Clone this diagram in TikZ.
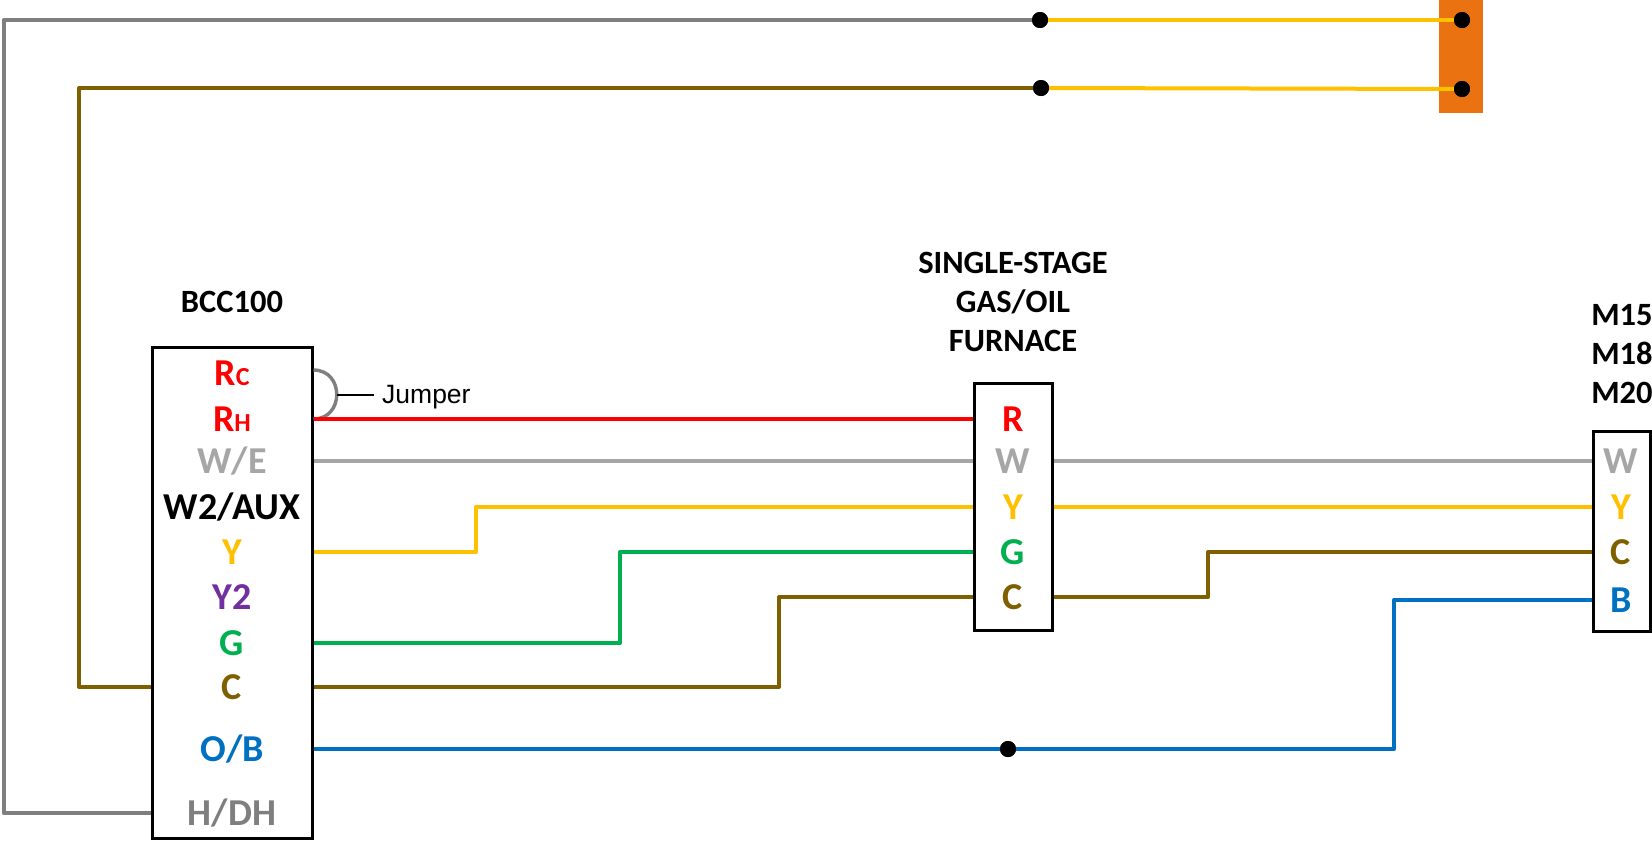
\documentclass[tikz,border=0pt]{standalone}
\usepackage{fontspec}
\setmainfont{Carlito}
\newfontfamily\jumperfont{Liberation Sans}
\definecolor{wred}{HTML}{FF0000}
\definecolor{wlight}{HTML}{A6A6A6}
\definecolor{wgray}{HTML}{7F7F7F}
\definecolor{wyellow}{HTML}{FFC000}
\definecolor{wgreen}{HTML}{00B050}
\definecolor{wbrown}{HTML}{7F6000}
\definecolor{wblue}{HTML}{0070C0}
\definecolor{wpurple}{HTML}{7030A0}
\definecolor{strip}{HTML}{EB7211}
\tikzset{
    panel/.style={draw=black, line width=3pt, fill=white, inner sep=0pt},
    term/.style={inner sep=0pt, text height=24pt, text depth=0pt, font=\fontsize{38}{38}\selectfont\bfseries},
    title/.style={inner sep=0pt, align=center, font=\fontsize{32.5}{39}\selectfont\bfseries},
    wire/.style={line width=4pt, line join=round},
    dot/.style={circle, fill=black, inner sep=0pt, minimum size=16pt},
}
\newcommand{\subsize}{\fontsize{26}{26}\selectfont}
\begin{document}
\begin{tikzpicture}[x=1pt, y=-1pt]
    \useasboundingbox (0,0) rectangle (1652,841);
    % Panels
    \node[panel, minimum width=160pt, minimum height=491pt] (bcc) at (232,592.5) {};
    \node[panel, minimum width=78pt, minimum height=247pt] (furnace) at (1013.5,506.5) {};
    \node[panel, minimum width=57pt, minimum height=200pt] (unit) at (1621.5,531) {};
    \node[fill=strip, inner sep=0pt, minimum width=44pt, minimum height=113pt] (pad) at (1461,56.5) {};
    % Titles
    \node[title] (bcctitle) at (232,302) {BCC100};
    \node[title] (furnacetitle) at (1013,302) {SINGLE-STAGE\\GAS/OIL\\FURNACE};
    \node[title, align=left] (unittitle) at (1622,354) {M15\\M18\\M20};
    % BCC100 terminals
    \node[term, wred] (bccrc) at (232,373) {R{\subsize C}};
    \node[term, wred] (bccrh) at (232,419) {R{\subsize H}};
    \node[term, wlight] (bccw) at (232,461) {W/E};
    \node[term, black] (bccaux) at (232,507) {W2/AUX};
    \node[term, wyellow] (bccy) at (232,552) {Y};
    \node[term, wpurple] (bccytwo) at (232,597) {Y2};
    \node[term, wgreen] (bccg) at (232,643) {G};
    \node[term, wbrown] (bccc) at (232,687) {C};
    \node[term, wblue] (bccob) at (232,749) {O/B};
    \node[term, wgray] (bcchd) at (232,813) {H/DH};
    % Furnace terminals
    \node[term, wred] (furr) at (1013,419) {R};
    \node[term, wlight] (furw) at (1013,461) {W};
    \node[term, wyellow] (fury) at (1013,507) {Y};
    \node[term, wgreen] (furg) at (1013,552) {G};
    \node[term, wbrown] (furc) at (1013,597) {C};
    % Outdoor unit terminals
    \node[term, wlight] (unitw) at (1621,461) {W};
    \node[term, wyellow] (unity) at (1621,507) {Y};
    \node[term, wbrown] (unitc) at (1621,552) {C};
    \node[term, wblue] (unitb) at (1621,600) {B};
    % Dots
    \node[dot] (dotgray) at (1040,20) {};
    \node[dot] (dotbrown) at (1041,88) {};
    \node[dot] (padtop) at (1462,20) {};
    \node[dot] (padlow) at (1462,89) {};
    \node[dot] (dotblue) at (1008,749) {};
    % Jumper
    \coordinate (jumptop) at (bcc.east |- 0,370);
    \coordinate (jumpmid) at (337,395);
    \node[anchor=west, inner sep=0pt, font=\fontsize{26.5}{26.5}\selectfont\jumperfont] (jumper) at (382,397) {Jumper};
    \draw[wgray, line width=3.4pt]
       (jumptop) .. controls +(31,0) and +(31,0) .. (bcc.east |- bccrh);
    \draw[line width=1.2pt] (jumpmid) -- (374,395);
    % Wires to furnace
    \draw[wire, wred] (bcc.east |- bccrh) -- (furnace.west |- furr);
    \draw[wire, wlight] (bcc.east |- bccw) -- (furnace.west |- furw);
    \draw[wire, wyellow]
       (bcc.east |- bccy)
    -- (476,552)
    -- (476,507)
    -- (furnace.west |- fury);
    \draw[wire, wgreen]
       (bcc.east |- bccg)
    -- (620,643)
    -- (620,552)
    -- (furnace.west |- furg);
    \draw[wire, wbrown]
       (bcc.east |- bccc)
    -- (779,687)
    -- (779,597)
    -- (furnace.west |- furc);
    % Wires to outdoor unit
    \draw[wire, wlight] (furnace.east |- furw) -- (unit.west |- unitw);
    \draw[wire, wyellow] (furnace.east |- fury) -- (unit.west |- unity);
    \draw[wire, wbrown]
       (furnace.east |- furc)
    -- (1208,597)
    -- (1208,552)
    -- (unit.west |- unitc);
    \draw[wire, wblue] (bcc.east |- bccob) -- (dotblue);
    \draw[wire, wblue]
       (dotblue)
    -- (1394,749)
    -- (1394,600)
    -- (unit.west |- unitb);
    % Wires to pad
    \draw[wire, wgray]
       (bcc.west |- bcchd)
    -- (3.5,813)
    -- (3.5,20)
    -- (dotgray);
    \draw[wire, wbrown]
       (bcc.west |- bccc)
    -- (79,687)
    -- (79,88)
    -- (dotbrown);
    \draw[wire, wyellow] (dotgray) -- (padtop);
    \draw[wire, wyellow] (dotbrown) -- (padlow);
    % Dots again, over the wires
    \node[dot] at (dotgray) {};
    \node[dot] at (dotbrown) {};
    \node[dot] at (padtop) {};
    \node[dot] at (padlow) {};
    \node[dot] at (dotblue) {};
\end{tikzpicture}
\end{document}
